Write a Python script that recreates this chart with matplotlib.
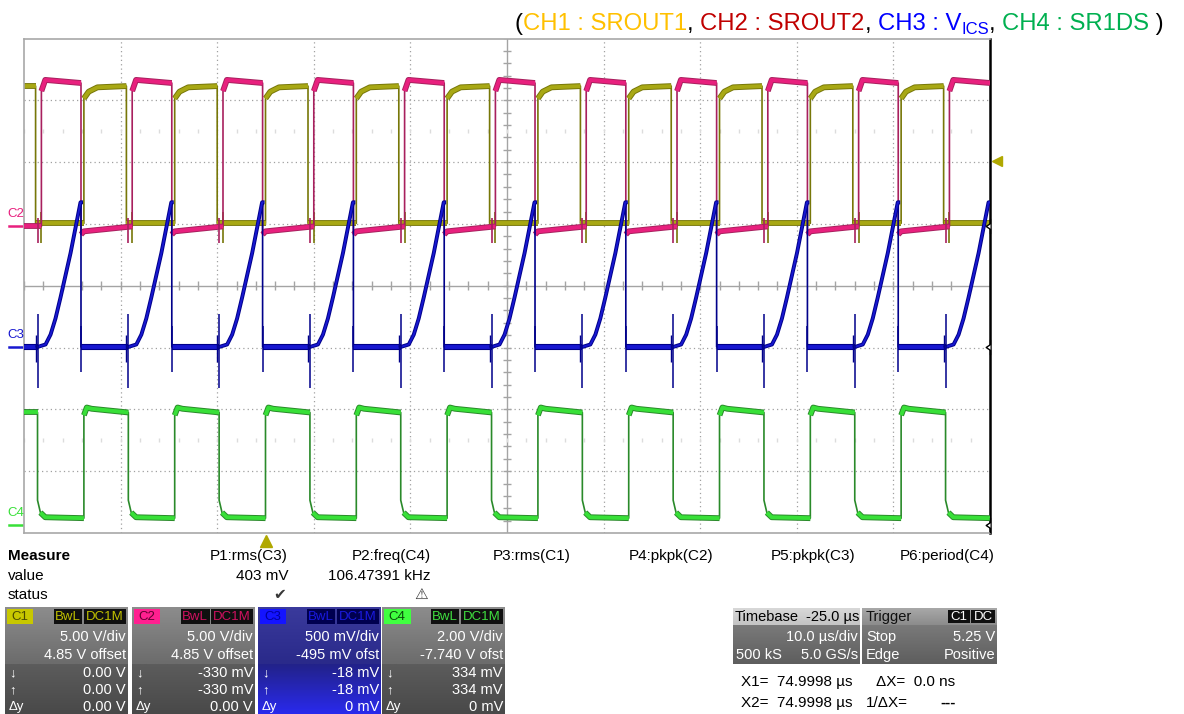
import numpy as np
import matplotlib.pyplot as plt
import matplotlib.transforms as mtransforms

plt.rcParams['font.family'] = ['Liberation Sans', 'DejaVu Sans']

W, H = 1184, 714

# horizontal: 10 us/div, trigger delay -25 us
t_left, t_right = -25.0, 75.0

# vertical scale (V/div) and offset (V) of each channel
ch_scale = {1: 5.0, 2: 5.0, 3: 0.5, 4: 2.0}
ch_offset = {1: 4.85, 2: 4.85, 3: -0.495, 4: -7.74}

# edge times (us)
ch1_rise = [-18.8, -9.4, 0.0, 9.4, 18.8, 28.2, 37.6, 47.0, 56.4, 65.8]
ch1_fall = [-23.8, -14.4, -5.0, 4.4, 13.8, 23.2, 32.6, 42.0, 51.4, 60.8, 70.2]
ch2_rise = [-23.2, -13.8, -4.4, 5.0, 14.4, 23.8, 33.2, 42.6, 52.0, 61.4, 70.8]
ch2_fall = [-19.1, -9.7, -0.3, 9.1, 18.5, 27.9, 37.3, 46.7, 56.1, 65.5]
ch4_rise = [-18.8, -9.4, 0.0, 9.4, 18.8, 28.2, 37.6, 47.0, 56.4, 65.8]
ch4_fall = [-23.6, -14.2, -4.8, 4.6, 14.0, 23.4, 32.8, 42.2, 51.6, 61.0, 70.4]

# level profiles after an edge: (time after edge in us, volts), level at end of segment
ch1_high = ([0.0, 0.5, 1.4], [10.3, 10.85, 11.2]); ch1_high_end = 11.3
ch1_low = ([0.0], [0.2]); ch1_low_end = 0.2
ch2_high = ([0.0, 0.4], [10.9, 11.8]); ch2_high_end = 11.55
ch2_low = ([0.0, 0.3], [-0.7, -0.45]); ch2_low_end = -0.05
ch4_high = ([0.0, 0.3, 0.8], [3.55, 3.8, 3.76]); ch4_high_end = 3.64
ch4_low = ([0.0, 0.3, 0.8], [0.8, 0.4, 0.25]); ch4_low_end = 0.22

# CH3 (V_ICS) ramp, starts at each CH4 falling edge
ch3_base = 0.0
ramp_dt = [0.0, 0.83, 1.35, 1.86, 2.38, 2.9, 3.42, 4.45]
ramp_v = [0.0, 0.02, 0.10, 0.23, 0.40, 0.58, 0.76, 1.17]

# switching spikes (low, high) in volts
ch3_spike_fall = (-0.33, 0.27)
ch3_spike_pre = (-0.12, 0.10)
ch3_spike_drop = (-0.20, 0.17)
ch1_spike = (-1.4, 1.1)
ch2_spike = (-1.4, 0.6)

# trigger
trig_level = 5.25

bright = {1: '#a8a814', 2: '#e8207e', 3: '#1818d0', 4: '#38e038'}
dark = {1: '#777708', 2: '#a8205e', 3: '#00008a', 4: '#2a8a2a'}


def to_div(ch, v):
    return (np.asarray(v, dtype=float) + ch_offset[ch]) / ch_scale[ch]


def square_segments(rises, falls, hi, hi_end, lo, lo_end):
    edges = sorted([(t, 1) for t in rises] + [(t, 0) for t in falls])
    bounds = [t_left] + [e[0] for e in edges] + [t_right]
    states = [1 - edges[0][1]] + [e[1] for e in edges]
    segs = []
    for i, s in enumerate(states):
        a, b = bounds[i], bounds[i + 1]
        dt, v = hi if s else lo
        v_end = hi_end if s else lo_end
        if i == 0:
            segs.append(([a, b], [v_end, v_end], 1))
            continue
        tt = [a + d for d in dt if d < b - a]
        vv = [x for d, x in zip(dt, v) if d < b - a]
        segs.append((tt + [b], vv + [v_end], s))
    return segs


fig = plt.figure(figsize=(W / 100, H / 100), dpi=100)
fig.patch.set_facecolor('white')


def fx(x):
    return x / W


def fy(y):
    return 1 - y / H


ax = fig.add_axes([fx(24), fy(533), (990 - 24) / W, (533 - 38.5) / H])
ax.set_xlim(t_left, t_right)
ax.set_ylim(-4, 4)
ax.set_xticks([])
ax.set_yticks([])
for s in ['top', 'left', 'bottom']:
    ax.spines[s].set_color('#a8a8a8')
    ax.spines[s].set_linewidth(1.2)
ax.spines['right'].set_color('black')
ax.spines['right'].set_linewidth(1.8)

# graticule
t_center = (t_left + t_right) / 2
for x in np.arange(t_left + 10, t_right, 10):
    if abs(x - t_center) > 1e-6:
        ax.axvline(x, color='#a0a0a0', lw=0.9, ls=(0, (1, 2.5)), zorder=1)
for y in range(-3, 4):
    if y != 0:
        ax.axhline(y, color='#a0a0a0', lw=0.9, ls=(0, (1, 2.5)), zorder=1)
ax.axhline(0, color='#a4a4a4', lw=1.0, zorder=1)
ax.axvline(t_center, color='#a4a4a4', lw=1.0, zorder=1)
minor_t = np.arange(t_left, t_right + 0.01, 2.0)
minor_v = np.arange(-4, 4.01, 0.2)
ax.vlines(minor_t, -0.07, 0.07, color='#a4a4a4', lw=1.0, zorder=1)
ax.hlines(minor_v, t_center - 0.45, t_center + 0.45, color='#a4a4a4', lw=1.0, zorder=1)
for y in (2.5, -2.5):
    ax.plot(minor_t, np.full_like(minor_t, y), '|', color='#dcdcdc', ms=2.5, zorder=1)


def draw_square(ch, segs, z, skip_low=0):
    tt = np.concatenate([s[0] for s in segs])
    vv = np.concatenate([s[1] for s in segs])
    ax.plot(tt, to_div(ch, vv), color=dark[ch], lw=1.2, zorder=z)
    for t, v, s in segs:
        k = 0 if s else skip_low
        ax.plot(t[k:], to_div(ch, v[k:]), color=dark[ch], lw=4.2, solid_capstyle='butt', zorder=z)
        ax.plot(t[k:], to_div(ch, v[k:]), color=bright[ch], lw=2.8, solid_capstyle='butt', zorder=z)


# CH1 / CH2 gate drives
draw_square(1, square_segments(ch1_rise, ch1_fall, ch1_high, ch1_high_end, ch1_low, ch1_low_end), 2)
ax.vlines(ch2_rise, to_div(1, ch1_spike[0]), to_div(1, ch1_spike[1]), color=dark[1], lw=1.2, zorder=2)
draw_square(2, square_segments(ch2_rise, ch2_fall, ch2_high, ch2_high_end, ch2_low, ch2_low_end), 3)
ax.vlines(ch4_fall, to_div(2, ch2_spike[0]), to_div(2, ch2_spike[1]), color=dark[2], lw=1.2, zorder=3)

# CH3 current sense ramp
base_segs, ramps = [], []
start = t_left
for f, p in zip(ch4_fall, ch2_fall + [t_right]):
    base_segs.append(([start, f], [ch3_base, ch3_base]))
    tt = [f + d for d in ramp_dt if d < p - f]
    vv = [v for d, v in zip(ramp_dt, ramp_v) if d < p - f]
    ramps.append((tt + [p], vv + [ramp_v[-1]]))
    start = p
tt, vv = [], []
for b, r in zip(base_segs, ramps):
    tt += b[0] + r[0]
    vv += b[1] + r[1]
ax.plot(tt, to_div(3, vv), color=dark[3], lw=1.2, zorder=4)
for t, v in base_segs:
    ax.plot(t, to_div(3, v), color=dark[3], lw=4.4, solid_capstyle='butt', zorder=4)
    ax.plot(t, to_div(3, v), color=bright[3], lw=2.8, solid_capstyle='butt', zorder=4)
for t, v in ramps:
    ax.plot(t, to_div(3, v), color=dark[3], lw=2.8, zorder=4)
    ax.plot(t, to_div(3, v), color=bright[3], lw=1.4, zorder=4)
ax.vlines(ch4_fall, to_div(3, ch3_spike_fall[0]), to_div(3, ch3_spike_fall[1]),
          color=dark[3], lw=1.1, zorder=4)
ax.vlines(ch1_fall, to_div(3, ch3_spike_pre[0]), to_div(3, ch3_spike_pre[1]),
          color=dark[3], lw=1.0, zorder=4)
ax.vlines(ch2_fall, to_div(3, ch3_spike_drop[0]), to_div(3, ch3_spike_drop[1]),
          color=dark[3], lw=1.1, zorder=4)

# CH4 SR drain-source
draw_square(4, square_segments(ch4_rise, ch4_fall, ch4_high, ch4_high_end, ch4_low, ch4_low_end), 5,
            skip_low=1)

# ground markers left, level markers right, trigger markers
fig_y = mtransforms.blended_transform_factory(fig.transFigure, ax.transData)
for ch, name in [(2, 'C2'), (3, 'C3'), (4, 'C4')]:
    g = float(to_div(ch, 0.0))
    ax.plot([fx(9), fx(22)], [g, g], color=bright[ch], lw=1.8, transform=fig_y, clip_on=False)
    ax.text(fx(7), g + 0.1, name, color=bright[ch], fontsize=9.5, transform=fig_y,
            ha='left', va='bottom', clip_on=False)
    notch = [(0, -1.6), (0, -0.6), (-0.9, 0), (0, 0.6), (0, 1.6)]
    ax.plot(t_right, g, marker=notch, ms=11, mfc='white', mec='black', mew=1.0,
            clip_on=False, zorder=6)
right_off = mtransforms.offset_copy(ax.transData, fig=fig, x=7, y=0, units='dots')
ax.plot(t_right, to_div(1, trig_level), marker='<', color='#b0a800', ms=7,
        transform=right_off, clip_on=False)
down_off = mtransforms.offset_copy(ax.transData, fig=fig, x=0, y=-8, units='dots')
ax.plot(0.0, -4, marker='^', color='#b0a800', ms=8, transform=down_off, clip_on=False)

# channel legend line on top
renderer = fig.canvas.get_renderer()
pieces = [('(', 'black', 0), ('CH1 : SROUT1', '#FFC000', 0), (', ', 'black', 0),
          ('CH2 : SROUT2', '#C00000', 0), (', ', 'black', 0), ('CH3 : V', '#0000FF', 0),
          ('ICS', '#0000FF', 1), (', ', 'black', 0), ('CH4 : SR1DS', '#00B050', 0),
          (' )', 'black', 0)]
x = 515
for txt, col, sub in pieces:
    t = fig.text(fx(x), fy(30 + 4 * sub), txt, color=col, fontsize=12 if sub else 17.2,
                 ha='left', va='baseline')
    x += t.get_window_extent(renderer).width

# measurement area
fs = 10.5
fm = 11
fig.text(fx(8), fy(556), 'Measure', fontsize=fm, fontweight='bold', va='center')
fig.text(fx(8), fy(576), 'value', fontsize=fm, va='center')
fig.text(fx(8), fy(595), 'status', fontsize=fm, va='center')
meas_names = ['P1:rms(C3)', 'P2:freq(C4)', 'P3:rms(C1)', 'P4:pkpk(C2)', 'P5:pkpk(C3)', 'P6:period(C4)']
meas_values = ['403 mV', '106.47391 kHz', '', '', '', '']
meas_status = ['\u2714', '\u26a0', '', '', '', '']
col_right = [288, 431, 571, 713, 855, 995]
status_x = [280, 421, 0, 0, 0, 0]
for name, val, st, xr, xs in zip(meas_names, meas_values, meas_status, col_right, status_x):
    fig.text(fx(xr), fy(556), name, fontsize=fm, ha='right', va='center')
    fig.text(fx(xr), fy(576), val, fontsize=fm, ha='right', va='center')
    if st:
        fig.text(fx(xs), fy(595), st, fontsize=11, ha='center', va='center', color='#383838')


def grad_box(x, y, w, h, top, bottom):
    a = fig.add_axes([fx(x), fy(y + h), w / W, h / H])
    c0 = np.array(plt.matplotlib.colors.to_rgb(top))
    c1 = np.array(plt.matplotlib.colors.to_rgb(bottom))
    k = np.linspace(0, 1, 32)[:, None, None]
    img = c0 * (1 - k) + c1 * k
    a.imshow(np.repeat(img, 2, axis=1), aspect='auto', interpolation='bilinear')
    a.set_axis_off()
    return a


def tag(x, y, w, h, txt, bg, fg):
    grad_box(x, y, w, h, bg, bg)
    fig.text(fx(x + w / 2), fy(y + h / 2 + 0.5), txt, fontsize=9.5, color=fg, ha='center', va='center')


ch_boxes = [
    ('C1', 5, '#c8c800', '#4a4a00', '#c0c000', '5.00 V/div', '4.85 V offset', ['0.00 V', '0.00 V', '0.00 V']),
    ('C2', 132, '#ff2090', '#600030', '#d01060', '5.00 V/div', '4.85 V offset', ['-330 mV', '-330 mV', '0.00 V']),
    ('C3', 258, '#1414ff', '#0000a0', '#1a1ae0', '500 mV/div', '-495 mV ofst', ['-18 mV', '-18 mV', '0 mV']),
    ('C4', 382, '#40ff40', '#0a4a0a', '#40e040', '2.00 V/div', '-7.740 V ofst', ['334 mV', '334 mV', '0 mV']),
]
for name, x0, tag_bg, tag_fg, flag_fg, vdiv, ofs, rows in ch_boxes:
    w = 123
    if name == 'C3':
        grad_box(x0, 607, w, 57, '#3a3a9c', '#2a2a8a')
        grad_box(x0, 664, w, 52, '#22228a', '#2a2af0')
    else:
        grad_box(x0, 607, w, 57, '#8c8c8c', '#6c6c6c')
        grad_box(x0, 664, w, 52, '#5c5c5c', '#484848')
    tag(x0 + 2, 609, 26, 15, name, tag_bg, tag_fg)
    tag(x0 + 49, 609, 28, 15, 'BwL', '#101010' if name != 'C3' else '#000050', flag_fg)
    tag(x0 + 79, 609, 42, 15, 'DC1M', '#101010' if name != 'C3' else '#000050', flag_fg)
    fig.text(fx(x0 + 121), fy(637), vdiv, fontsize=fs, color='white', ha='right', va='center')
    fig.text(fx(x0 + 121), fy(655), ofs, fontsize=fs, color='white', ha='right', va='center')
    for lab, val, yy in zip(['\u2193', '\u2191', '\u0394y'], rows, [673, 690, 707]):
        fig.text(fx(x0 + 4), fy(yy), lab, fontsize=9.5, color='white', ha='left', va='center')
        fig.text(fx(x0 + 121), fy(yy), val, fontsize=fs, color='white', ha='right', va='center')

# timebase / trigger boxes
grad_box(733, 608, 127, 17, '#d8d8d8', '#c4c4c4')
grad_box(733, 625, 127, 39, '#7a7a7a', '#5e5e5e')
fig.text(fx(735), fy(617), 'Timebase', fontsize=fs, ha='left', va='center')
fig.text(fx(859), fy(617), '-25.0 \u00b5s', fontsize=fs, ha='right', va='center')
fig.text(fx(858), fy(637), '10.0 \u00b5s/div', fontsize=fs, color='white', ha='right', va='center')
fig.text(fx(736), fy(655), '500 kS', fontsize=fs, color='white', ha='left', va='center')
fig.text(fx(858), fy(655), '5.0 GS/s', fontsize=fs, color='white', ha='right', va='center')

grad_box(862, 608, 135, 17, '#a8a8a8', '#8c8c8c')
grad_box(862, 625, 135, 39, '#7a7a7a', '#5e5e5e')
fig.text(fx(866), fy(617), 'Trigger', fontsize=fs, ha='left', va='center', color='#101010')
tag(948, 610, 22, 13, 'C1', '#101010', 'white')
tag(971, 610, 24, 13, 'DC', '#101010', 'white')
fig.text(fx(866), fy(637), 'Stop', fontsize=fs, color='white', ha='left', va='center')
fig.text(fx(995), fy(637), f'{trig_level:.2f} V', fontsize=fs, color='white', ha='right', va='center')
fig.text(fx(866), fy(655), 'Edge', fontsize=fs, color='white', ha='left', va='center')
fig.text(fx(995), fy(655), 'Positive', fontsize=fs, color='white', ha='right', va='center')

fig.text(fx(741), fy(682), 'X1=  74.9998 \u00b5s', fontsize=fm, va='center')
fig.text(fx(741), fy(703), 'X2=  74.9998 \u00b5s', fontsize=fm, va='center')
fig.text(fx(876), fy(682), '\u0394X=  0.0 ns', fontsize=fm, va='center')
fig.text(fx(866), fy(703), '1/\u0394X=', fontsize=fm, va='center')
fig.text(fx(940), fy(703), '---', fontsize=fm, va='center', fontweight='bold')

fig.savefig('out.png', dpi=100)
